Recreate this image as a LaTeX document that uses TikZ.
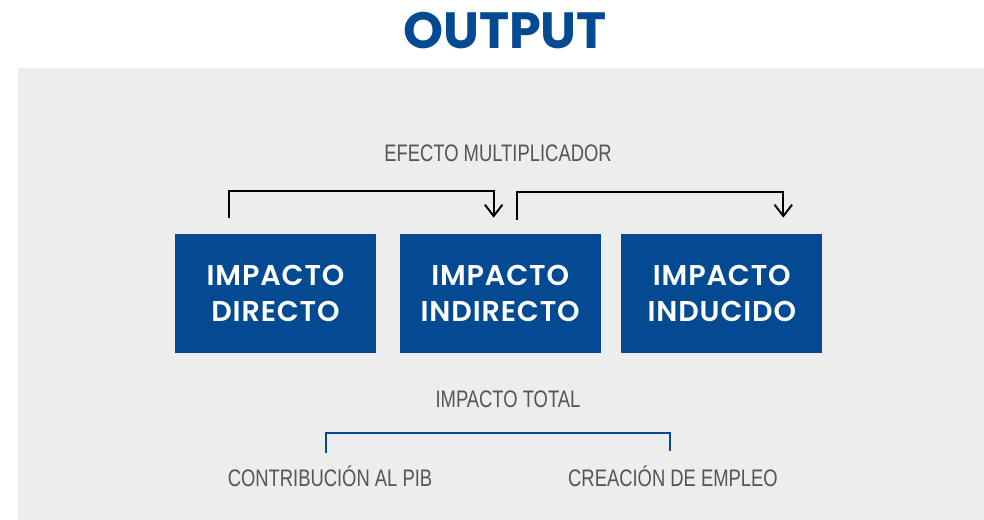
\documentclass[tikz,border=0pt]{standalone}
\usepackage{fontspec}
\usepackage{tikz}
\usetikzlibrary{calc,positioning,arrows.meta}
\setmainfont{Liberation Sans}
\newfontfamily\boxfont{Poppins}
\newfontfamily\boxsemi[LetterSpace=3]{Poppins SemiBold}
\newfontfamily\narrowfont[FakeStretch=0.77]{Liberation Sans}
\definecolor{impblue}{HTML}{034A93}
\definecolor{labelgray}{HTML}{555555}
\definecolor{panelgray}{HTML}{ECEDEC}

\begin{document}
\begin{tikzpicture}[x=0.02cm,y=-0.02cm]
    \tikzstyle{impact box}=[fill=impblue,text=white,minimum width=4.02cm,minimum height=2.38cm,
        align=center,inner sep=0,font=\boxsemi\fontsize{16.3}{20.5}\selectfont]
    \tikzstyle{gray label}=[text=labelgray,anchor=base,inner sep=0,font=\narrowfont\fontsize{13.6}{16}\selectfont]
    \tikzstyle{multiplier}=[draw=black,line width=1.1pt,-{Straight Barb[length=6.5pt,width=10pt]}]
    \tikzstyle{total bracket}=[draw=impblue,line width=1.2pt]

    \useasboundingbox (0,0) rectangle (984,520);
    \fill[panelgray] (18,68) rectangle (984,520);

    \node(title)[anchor=base,inner sep=0,text=impblue,font=\boxfont\bfseries\fontsize{29}{34}\selectfont] at (505,49) {OUTPUT};
    \node(efecto)[gray label] at (498,162) {EFECTO MULTIPLICADOR};

    \node(directo)[impact box] at (275.5,293.5) {IMPACTO\\DIRECTO};
    \node(indirecto)[impact box,right=0.46cm of directo] {IMPACTO\\INDIRECTO};
    \node(inducido)[impact box,right=0.4cm of indirecto] {IMPACTO\\INDUCIDO};

    \node(total)[gray label] at (508,407) {IMPACTO TOTAL};
    \node(pib)[gray label] at (330,486) {CONTRIBUCIÓN AL PIB};
    \node(empleo)[gray label] at (673,486) {CREACIÓN DE EMPLEO};

% multiplier arrows
\draw[multiplier]($(directo.north)+(-46.5,-16)$) |- ($(indirecto.north)+(-6.5,-43)$) -- ($(indirecto.north)+(-6.5,-16)$);
\draw[multiplier]($(indirecto.north)+(16.5,-14)$) |- ($(inducido.north)+(61.5,-42)$) -- ($(inducido.north)+(61.5,-16)$);
% total impact
\draw[total bracket]($(pib.base)+(-4,-33)$) |- ($(empleo.base)+(-3,-53)$) -- ($(empleo.base)+(-3,-35)$);
\end{tikzpicture}
\end{document}
